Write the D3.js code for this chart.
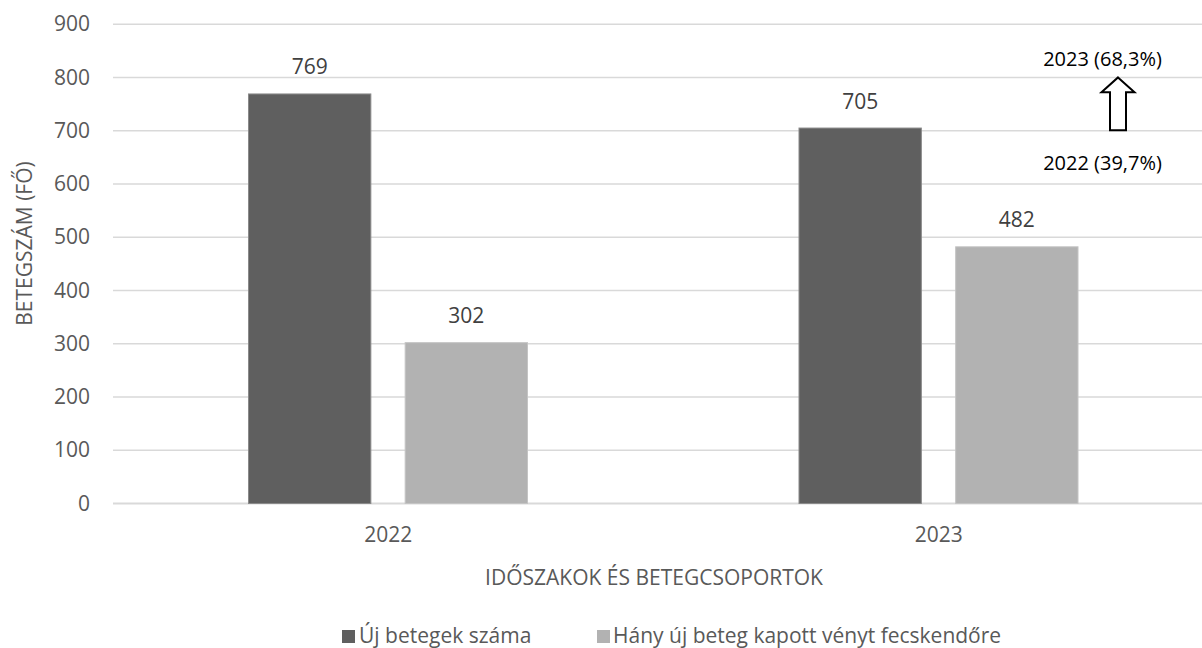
<!DOCTYPE html>
<html>
<head>
<meta charset="utf-8">
<script src="https://cdn.jsdelivr.net/npm/d3@7"></script>
<style>
  html, body { margin: 0; padding: 0; background: #fff; }
  svg { display: block; }
  text { font-family: "Open Sans", sans-serif; }
</style>
</head>
<body>
<svg id="chart" width="1202" height="648"></svg>
<script>
const categories = ["2022", "2023"];
const seriesNames = ["Új betegek száma", "Hány új beteg kapott vényt fecskendőre"];
const newPatients = [769, 705];
const prescribed = [302, 482];
const yTicks = [0, 100, 200, 300, 400, 500, 600, 700, 800, 900];
const yTitle = "BETEGSZÁM (FŐ)";
const xTitle = "IDŐSZAKOK ÉS BETEGCSOPORTOK";
const noteTop = "2023 (68,3%)";
const noteBottom = "2022 (39,7%)";

const colors = ["#5f5f5f", "#b2b2b2"];
const strokes = ["#8a8a8a", "#c4c4c4"];
const FS = 21;

const svg = d3.select("#chart");
const plotLeft = 113, plotRight = 1214, plotTop = 24.2, plotBottom = 503.5;

const x = d3.scaleBand().domain(categories).range([plotLeft, plotRight]).padding(0);
const xs = d3.scaleBand().domain([0, 1]).range([135, 415]).paddingInner(0.2127).paddingOuter(0);
const y = d3.scaleLinear().domain([0, 900]).range([plotBottom, plotTop]);

// gridlines
const grid = svg.append("g");
grid.selectAll("line").data(yTicks).join("line")
  .attr("x1", plotLeft).attr("x2", plotRight)
  .attr("y1", d => y(d)).attr("y2", d => y(d))
  .attr("stroke", "#d9d9d9")
  .attr("stroke-width", d => d === 0 ? 2 : 1.6);

// y axis labels
const yAxis = d3.axisLeft(y).tickValues(yTicks).tickSize(0).tickPadding(0);
const ya = svg.append("g").attr("transform", `translate(90,0)`).call(yAxis);
ya.select(".domain").remove();
ya.selectAll("text").attr("font-size", FS).attr("fill", "#595959")
  .attr("font-family", "Open Sans, sans-serif");

// x axis labels
const xAxis = d3.axisBottom(x).tickSize(0).tickPadding(0);
const xa = svg.append("g").attr("transform", `translate(0,${plotBottom})`).call(xAxis);
xa.select(".domain").remove();
xa.selectAll("text").attr("font-size", FS).attr("fill", "#595959")
  .attr("font-family", "Open Sans, sans-serif")
  .attr("dy", null).attr("y", 38.5);

// bars
const rows = categories.map((c, i) => ({ cat: c, vals: [newPatients[i], prescribed[i]] }));
const groups = svg.append("g").selectAll("g").data(rows).join("g")
  .attr("transform", d => `translate(${x(d.cat)},0)`);
groups.selectAll("rect").data(d => d.vals.map((v, k) => ({ v, k }))).join("rect")
  .attr("x", d => xs(d.k) + 0.5)
  .attr("width", xs.bandwidth() - 1)
  .attr("y", d => y(d.v))
  .attr("height", d => y(0) - y(d.v))
  .attr("fill", d => colors[d.k])
  .attr("stroke", d => strokes[d.k])
  .attr("stroke-width", 1);
groups.selectAll("text").data(d => d.vals.map((v, k) => ({ v, k }))).join("text")
  .attr("x", d => xs(d.k) + xs.bandwidth() / 2)
  .attr("y", d => y(d.v) - 19.5)
  .attr("text-anchor", "middle")
  .attr("font-size", FS)
  .attr("fill", "#404040")
  .text(d => d.v);

// axis titles
svg.append("text")
  .attr("transform", `translate(31.5,243.5) rotate(-90)`)
  .attr("text-anchor", "middle")
  .attr("font-size", FS)
  .attr("fill", "#595959")
  .text(yTitle);
svg.append("text")
  .attr("x", 654).attr("y", 585)
  .attr("text-anchor", "middle")
  .attr("font-size", FS)
  .attr("fill", "#595959")
  .text(xTitle);

// legend
const legendItems = [
  { name: seriesNames[0], sx: 342, tx: 359 },
  { name: seriesNames[1], sx: 597, tx: 613 }
];
const lg = svg.append("g");
legendItems.forEach((it, k) => {
  lg.append("rect").attr("x", it.sx).attr("y", 630).attr("width", 13).attr("height", 13)
    .attr("fill", colors[k]);
  lg.append("text").attr("x", it.tx).attr("y", 643)
    .attr("font-size", FS).attr("fill", "#595959").text(it.name);
});

// annotations
const noteX = 1102.5;
svg.append("text").attr("x", noteX).attr("y", 66)
  .attr("text-anchor", "middle")
  .attr("font-family", "DejaVu Sans, sans-serif")
  .attr("font-size", 20).attr("fill", "#000").text(noteTop);
svg.append("text").attr("x", noteX).attr("y", 170)
  .attr("text-anchor", "middle")
  .attr("font-family", "DejaVu Sans, sans-serif")
  .attr("font-size", 20).attr("fill", "#000").text(noteBottom);

const ax = 1118;
const tipY = y(800), headY = y(772), baseY = y(701);
const arrow = d3.path();
arrow.moveTo(ax, tipY);
arrow.lineTo(ax + 16.5, headY);
arrow.lineTo(ax + 8, headY);
arrow.lineTo(ax + 8, baseY);
arrow.lineTo(ax - 8, baseY);
arrow.lineTo(ax - 8, headY);
arrow.lineTo(ax - 16.5, headY);
arrow.closePath();
svg.append("path").attr("d", arrow.toString())
  .attr("fill", "#fff").attr("stroke", "#000").attr("stroke-width", 2)
  .attr("stroke-linejoin", "miter");
</script>
</body>
</html>
